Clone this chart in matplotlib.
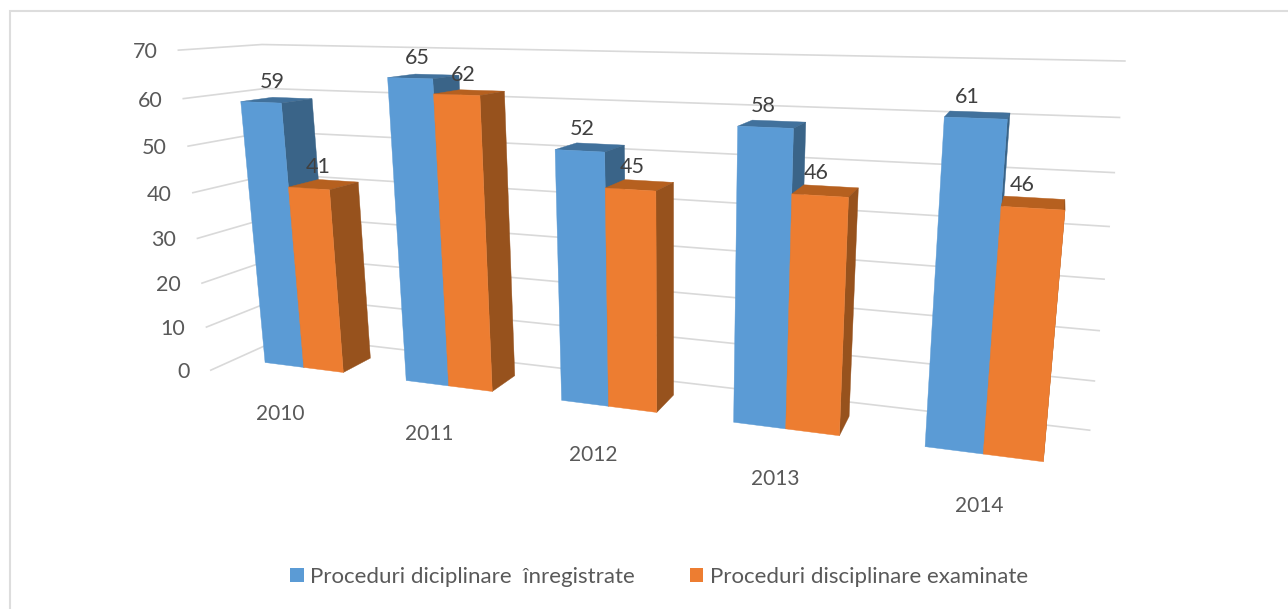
import numpy as np
import matplotlib
matplotlib.use("Agg")
import matplotlib.pyplot as plt
from matplotlib.patches import Polygon, Patch

# ---- data ----
years = ["2010", "2011", "2012", "2013", "2014"]
inregistrate = [59, 65, 52, 58, 61]
examinate = [41, 62, 45, 46, 46]
series_names = ["Proceduri diciplinare  înregistrate", "Proceduri disciplinare examinate"]
axis_ticks = [0, 10, 20, 30, 40, 50, 60, 70]

# ---- styles ----
BLUE = ("#5B9BD5", "#41719C", "#3A6488")
ORANGE = ("#ED7D31", "#B6601F", "#97521D")
GRID = "#D9D9D9"
TICK = "#595959"
LABEL = "#404040"
FONT = "Lato"
BAR_W = 0.283
YEAR_LABEL_XY = [(280, 414), (429, 434), (593, 455), (775, 479), (979, 506)]

# ---- perspective calibration: (world u, value, depth) -> reference pixel ----
wall_cal = [
    ((0, 0, 1), (286, 336)), ((0, 70, 1), (262, 44)), ((0, 60, 1), (266, 89)),
    ((5, 70, 1), (1125, 60.7)), ((5, 0, 1), (1090, 430)), ((5, 40, 1), (1108.7, 227)),
    ((0, 0, 0), (211, 370)), ((0, 70, 0), (178, 50)), ((0, 40, 0), (193, 193)),
]
bar_cal = [
    # 2010
    ((0, 0, 0), (264.3, 362.7)), ((BAR_W, 0, 0), (303.7, 367.7)), ((2*BAR_W, 0, 0), (343.7, 372.7)),
    ((2*BAR_W, 0, 1), (370.7, 358.3)),
    ((0, 59, 0), (240.7, 101.7)), ((BAR_W, 59, 0), (281.7, 102.7)), ((0, 59, 1), (271.7, 97.3)), ((BAR_W, 59, 1), (312.3, 99)),
    ((BAR_W, 41, 0), (288.3, 187.3)), ((2*BAR_W, 41, 0), (330.7, 189.7)), ((2*BAR_W, 41, 1), (359, 182.3)),
    # 2011
    ((1, 0, 0), (405.7, 381)), ((1+BAR_W, 0, 0), (448.3, 386)), ((1+2*BAR_W, 0, 0), (492.7, 391.3)),
    ((1+2*BAR_W, 0, 1), (515, 375.7)),
    ((1, 65, 0), (387.3, 77.7)), ((1+BAR_W, 65, 0), (432.7, 78.7)), ((1, 65, 1), (413.3, 74)), ((1+BAR_W, 65, 1), (459.3, 75)),
    ((1+BAR_W, 62, 0), (434, 94)), ((1+2*BAR_W, 62, 0), (480.7, 95.3)), ((1+2*BAR_W, 62, 1), (505, 91.3)),
    # 2012
    ((2, 0, 0), (561, 400)), ((2+BAR_W, 0, 0), (608, 406)), ((2+2*BAR_W, 0, 0), (657, 412)),
    ((2+2*BAR_W, 0, 1), (674, 393)),
    ((2, 52, 0), (555, 150)), ((2+BAR_W, 52, 0), (605, 151.7)), ((2, 52, 1), (577.3, 143)), ((2+BAR_W, 52, 1), (624.3, 145.3)),
    ((2+BAR_W, 45, 0), (605.3, 187.7)), ((2+2*BAR_W, 45, 0), (656.3, 190.7)), ((2+2*BAR_W, 45, 1), (674, 182.7)),
    # 2013
    ((3, 0, 0), (733, 422)), ((3+BAR_W, 0, 0), (785, 429)), ((3+2*BAR_W, 0, 0), (840, 436)),
    ((3+2*BAR_W, 0, 1), (850, 417)),
    ((3, 58, 0), (737.3, 126)), ((3+BAR_W, 58, 0), (794, 128.3)), ((3, 58, 1), (750, 120)), ((3+BAR_W, 58, 1), (805.7, 122)),
    ((3+BAR_W, 46, 0), (791.7, 194)), ((3+2*BAR_W, 46, 0), (848.3, 197.3)), ((3+2*BAR_W, 46, 1), (858.7, 188.3)),
    # 2014
    ((4, 0, 0), (924, 447)), ((4+BAR_W, 0, 0), (983, 454)), ((4+2*BAR_W, 0, 0), (1044, 462)),
    ((4, 61, 0), (944, 117.3)), ((4+BAR_W, 61, 0), (1008.3, 119.3)), ((4, 61, 1), (949.3, 111)), ((4+BAR_W, 61, 1), (1010, 112.7)),
    ((4+BAR_W, 46, 0), (1000.7, 206.7)), ((4+2*BAR_W, 46, 0), (1065, 210)), ((4+2*BAR_W, 46, 1), (1065.3, 200)),
]


def fit_camera(cal):
    rows = []
    for (u, v, w), (x, y) in cal:
        X = [u, v / 70.0, w, 1.0]
        x, y = x / 1000.0, y / 1000.0
        rows.append(X + [0, 0, 0, 0] + [-x * c for c in X])
        rows.append([0, 0, 0, 0] + X + [-y * c for c in X])
    _, _, vt = np.linalg.svd(np.array(rows))
    return vt[-1].reshape(3, 4)


def projector(P):
    def project(u, v, w):
        h = P @ np.array([u, v / 70.0, w, 1.0])
        return h[0] / h[2] * 1000.0, h[1] / h[2] * 1000.0
    return project


wall = projector(fit_camera(wall_cal))
bar = projector(fit_camera(bar_cal))

fig = plt.figure(figsize=(12.88, 6.09), dpi=100)
ax = fig.add_axes([0, 0, 1, 1])
ax.set_xlim(0, 1288)
ax.set_ylim(609, 0)
ax.axis("off")

# chart frame (only top and left edges are in the crop)
ax.plot([10, 10, 1288], [609, 11, 11], color="#DDDDDD", lw=1.5, solid_joinstyle="miter", zorder=1)

# walls
for t in axis_ticks:
    pts = [wall(0, t, 0), wall(0, t, 1), wall(5, t, 1)]
    ax.plot(*zip(*pts), color=GRID, lw=1.2, zorder=2, solid_joinstyle="round")
    x, y = wall(0, t, 0)
    ax.text(x - 21, y + 2, str(t), ha="right", va="center", fontsize=15.5, color=TICK, family=FONT, zorder=6)


def draw_box(u0, u1, val, colors, z):
    front, top, side = colors
    faces = [
        (top, [bar(u0, val, 0), bar(u1, val, 0), bar(u1, val, 1), bar(u0, val, 1)]),
        (side, [bar(u1, 0, 0), bar(u1, val, 0), bar(u1, val, 1), bar(u1, 0, 1)]),
        (front, [bar(u0, 0, 0), bar(u1, 0, 0), bar(u1, val, 0), bar(u0, val, 0)]),
    ]
    for col, pts in faces:
        ax.add_patch(Polygon(pts, closed=True, facecolor=col, edgecolor=col, lw=0.3, zorder=z))


for i, year in enumerate(years):
    draw_box(i, i + BAR_W, inregistrate[i], BLUE, 3)
    draw_box(i + BAR_W, i + 2 * BAR_W, examinate[i], ORANGE, 4)
    for u0, val in ((i, inregistrate[i]), (i + BAR_W, examinate[i])):
        x, y = bar(u0 + BAR_W / 2, val, 0.5)
        ax.text(x - 5 - 0.008 * (x - 272), y - 18, str(val), ha="center", va="center",
                fontsize=15.5, color=LABEL, family=FONT, zorder=7)
    ax.text(*YEAR_LABEL_XY[i], year, ha="center", va="center", fontsize=15, color=TICK, family=FONT, zorder=6)

handles = [Patch(facecolor=BLUE[0], label=series_names[0]), Patch(facecolor=ORANGE[0], label=series_names[1])]
leg = ax.legend(handles=handles, ncol=2, loc="center", bbox_to_anchor=(659 / 1288, 1 - 577 / 609),
                frameon=False, handlelength=0.62, handleheight=0.62, handletextpad=0.3,
                columnspacing=2.45, labelcolor=TICK, prop={"family": FONT, "size": 16})

fig.savefig("out.png", dpi=100, facecolor="white")
